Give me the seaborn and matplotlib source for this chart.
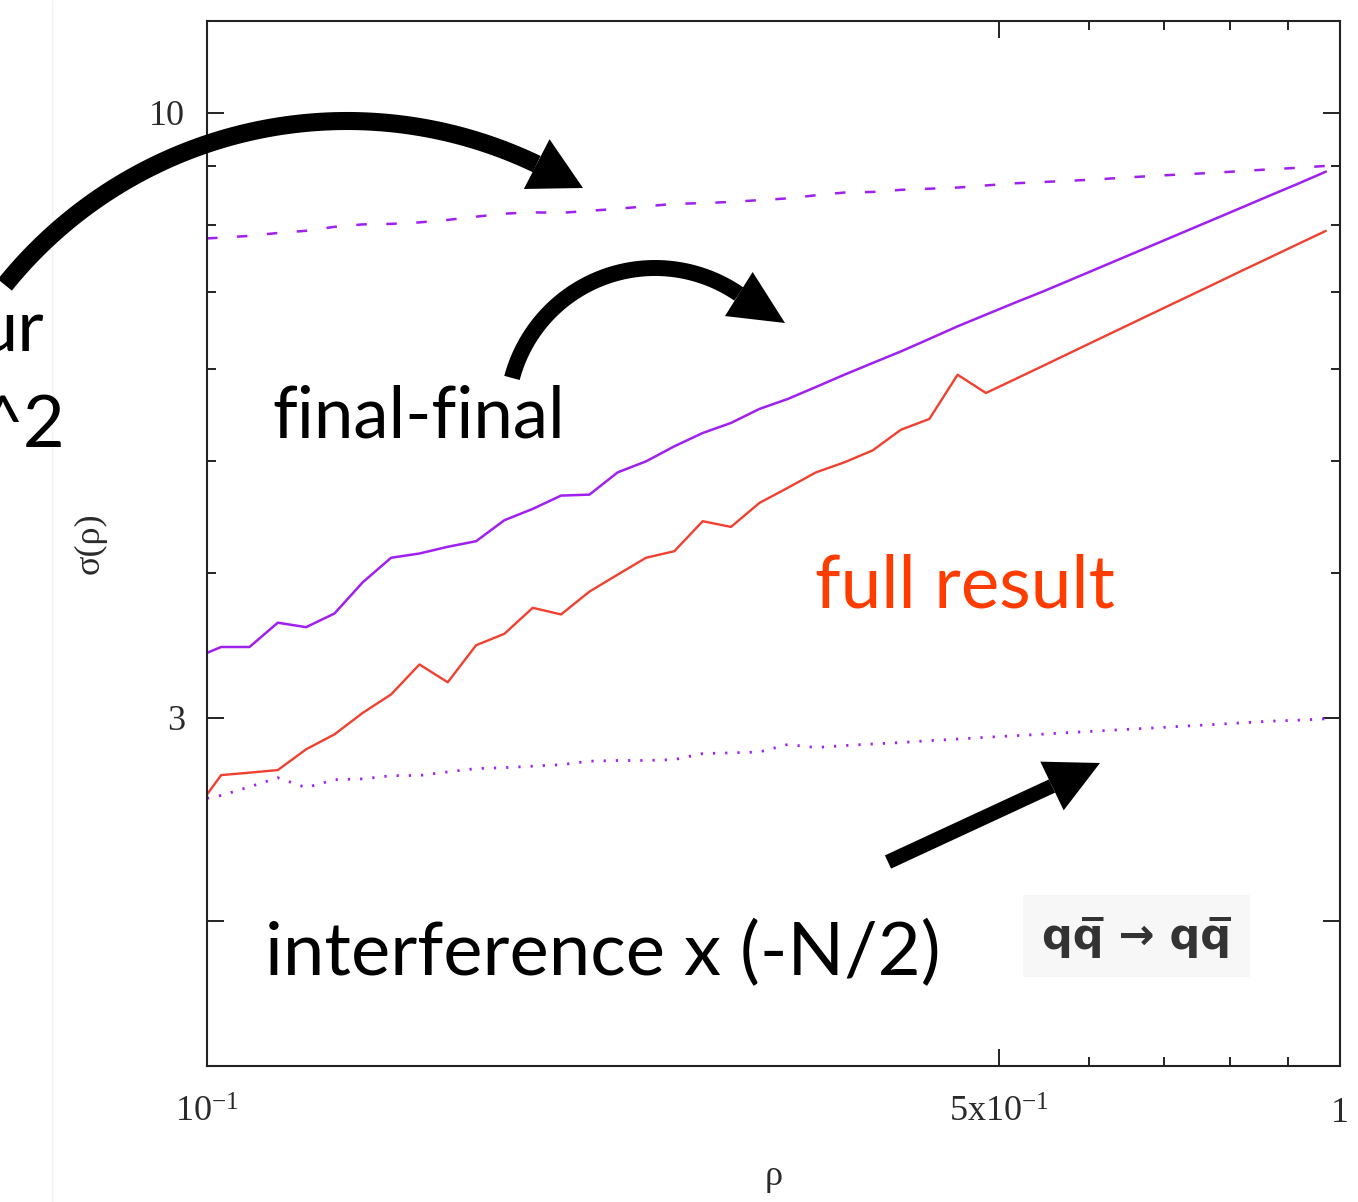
import numpy as np
import pandas as pd
import matplotlib
matplotlib.use("Agg")
import matplotlib.pyplot as plt
from matplotlib.lines import Line2D
from matplotlib.patches import Polygon, Rectangle
from matplotlib.ticker import FixedLocator, FixedFormatter, NullFormatter
import seaborn as sns

# rho: lower edge followed by the centres of 40 logarithmic bins on [0.1, 1]
rho = [0.1] + list(10 ** (-1 + 0.025 * (np.arange(40) + 0.5)))

square_term = [7.786, 7.797, 7.825, 7.870, 7.905, 7.967, 8.006, 8.014, 8.038, 8.078,
               8.130, 8.179, 8.200, 8.192, 8.225, 8.259, 8.299, 8.340, 8.352, 8.372,
               8.402, 8.431, 8.484, 8.530, 8.540, 8.576, 8.595, 8.615, 8.651, 8.688,
               8.710, 8.733, 8.759, 8.790, 8.820, 8.845, 8.871, 8.901, 8.933, 8.960,
               8.994]
final_final = [3.413, 3.453, 3.453, 3.624, 3.592, 3.691, 3.928, 4.124, 4.159, 4.215,
               4.262, 4.444, 4.545, 4.667, 4.676, 4.888, 4.996, 5.148, 5.286, 5.393,
               5.545, 5.656, 5.793, 5.936, 6.076, 6.218, 6.374, 6.536, 6.690, 6.847,
               7.003, 7.171, 7.344, 7.521, 7.702, 7.888, 8.078, 8.273, 8.474, 8.677,
               8.892]
full_result = [2.575, 2.676, 2.689, 2.703, 2.817, 2.902, 3.029, 3.142, 3.335, 3.219,
               3.465, 3.545, 3.733, 3.684, 3.855, 3.988, 4.124, 4.178, 4.435, 4.385,
               4.599, 4.739, 4.888, 4.986, 5.106, 5.321, 5.435, 5.936, 5.724, 5.879,
               6.039, 6.205, 6.375, 6.549, 6.728, 6.911, 7.099, 7.294, 7.491, 7.695,
               7.903]
interference = [2.555, 2.570, 2.614, 2.662, 2.610, 2.652, 2.656, 2.673, 2.674, 2.693,
                2.711, 2.716, 2.724, 2.732, 2.751, 2.755, 2.755, 2.760, 2.793, 2.797,
                2.802, 2.844, 2.827, 2.838, 2.847, 2.855, 2.866, 2.875, 2.885, 2.894,
                2.903, 2.913, 2.922, 2.931, 2.940, 2.950, 2.959, 2.969, 2.979, 2.985,
                2.993]

x_ticks = [0.1, 0.5, 1.0]
x_tick_labels = [r"$10^{-1}$", r"$5\mathrm{x}10^{-1}$", "1"]
x_minor = [0.6, 0.7, 0.8, 0.9]
y_ticks = [2, 3, 10]
y_tick_labels = ["", "3", "10"]
y_minor = [4, 5, 6, 7, 8, 9]

PURPLE = "#A020F0"
RED = "#F0402F"
ANNOT = "#FF3C00"

df = pd.DataFrame({"rho": rho, "square_term": square_term, "final_final": final_final,
                   "full_result": full_result, "interference": interference})

sns.set_theme(style="ticks")
plt.rcParams["font.family"] = ["Liberation Serif", "DejaVu Serif"]
plt.rcParams["mathtext.fontset"] = "custom"
plt.rcParams["mathtext.rm"] = "Liberation Serif"
plt.rcParams["mathtext.it"] = "Liberation Serif:italic"

W, H = 1358, 1202
fig = plt.figure(figsize=(W / 100, H / 100), dpi=100)
fig.patch.set_facecolor("white")
ax = fig.add_axes([207 / W, 1 - 1066 / H, (1340 - 207) / W, (1066 - 21) / H])
ax.set_facecolor("white")

sns.lineplot(data=df, x="rho", y="square_term", ax=ax, color=PURPLE, lw=1.8,
             linestyle=(0, (4.2, 7.8)))
sns.lineplot(data=df, x="rho", y="final_final", ax=ax, color=PURPLE, lw=1.8)
sns.lineplot(data=df, x="rho", y="full_result", ax=ax, color=RED, lw=1.7)
sns.lineplot(data=df, x="rho", y="interference", ax=ax, color=PURPLE, lw=2.0,
             linestyle=(0, (0.8, 3.6)))

ax.set_xscale("log")
ax.set_yscale("log")
ax.set_xlim(0.1, 1.0)
ax.set_ylim(1.5, 12.0)

ax.xaxis.set_major_locator(FixedLocator(x_ticks))
ax.xaxis.set_major_formatter(FixedFormatter(x_tick_labels))
ax.xaxis.set_minor_locator(FixedLocator(x_minor))
ax.xaxis.set_minor_formatter(NullFormatter())
ax.yaxis.set_major_locator(FixedLocator(y_ticks))
ax.yaxis.set_major_formatter(FixedFormatter(y_tick_labels))
ax.yaxis.set_minor_locator(FixedLocator(y_minor))
ax.yaxis.set_minor_formatter(NullFormatter())

ax.tick_params(which="both", direction="in", top=True, right=True,
               color="#222222", width=1.4, labelcolor="#2a2a2a", labelsize=26)
ax.tick_params(which="major", length=12.5)
ax.tick_params(which="minor", length=6.5)
ax.tick_params(axis="y", pad=16)
ax.tick_params(axis="x", pad=22)
for s in ax.spines.values():
    s.set_visible(True)
    s.set_color("#222222")
    s.set_linewidth(1.5)

ax.set_xlabel("ρ", fontsize=26, color="#2a2a2a", labelpad=22)
ax.set_ylabel("σ(ρ)", fontsize=26, color="#2a2a2a", labelpad=30)


def fp(x, y):
    """pixel position (origin top-left) -> figure fraction"""
    return x / W, 1 - y / H


# faint rule at the far left
fig.add_artist(Line2D([52 / W, 52 / W], [0, 1], color="#f4f4f4", lw=1))


def head(base, tip, half):
    d = tip - base
    d = d / np.hypot(*d)
    n = np.array([-d[1], d[0]])
    pts = [tip, base + n * half, base - n * half]
    fig.add_artist(Polygon([fp(*p) for p in pts], closed=True, color="black", lw=0))


def arc_arrow(cx, cy, r, a0, a1, tip, half, lw):
    ang = np.radians(np.linspace(a0, a1, 120))
    xs = cx + r * np.cos(ang)
    ys = cy + r * np.sin(ang)
    X, Y = fp(xs, ys)
    fig.add_artist(Line2D(X, Y, color="black", lw=lw, solid_capstyle="butt"))
    head(np.array([xs[-1], ys[-1]]), np.array(tip), half)


arc_arrow(347, 560, 439, -141.2, -64.4, (583, 188), 28, 13)
arc_arrow(655, 416, 148, -165.1, -55.5, (785, 323), 26, 11.5)
# straight arrow
b = np.array([1052, 786])
X, Y = fp(np.array([888, b[0]]), np.array([862, b[1]]))
fig.add_artist(Line2D(X, Y, color="black", lw=10.5, solid_capstyle="butt"))
head(b, np.array([1100, 763]), 27)

sans = ["Lato", "DejaVu Sans"]
fig.text(*fp(272, 437), "final-final", family=sans, fontsize=51, color="black", va="baseline")
fig.text(*fp(815, 608), "full result", family=sans, fontsize=52.5, color=ANNOT, va="baseline")
fig.text(*fp(265, 975), "interference x (-N/2)", family=sans, fontsize=53.5, color="black",
         va="baseline")
fig.text(*fp(44, 352), "ur", family=sans, fontsize=52, color="black", va="baseline", ha="right")
fig.text(*fp(65, 447), "^2", family=sans, fontsize=52, color="black", va="baseline", ha="right")

fig.add_artist(Rectangle(fp(1023, 977), 227 / W, 82 / H, transform=fig.transFigure,
                         facecolor="#f7f7f7", edgecolor="none"))
fig.text(*fp(1137, 937), "qq\u0305 \u2192 qq\u0305", family=["DejaVu Sans"], weight="bold",
         fontsize=31, color="#333333", ha="center", va="center")

fig.savefig("out.png", dpi=100)
